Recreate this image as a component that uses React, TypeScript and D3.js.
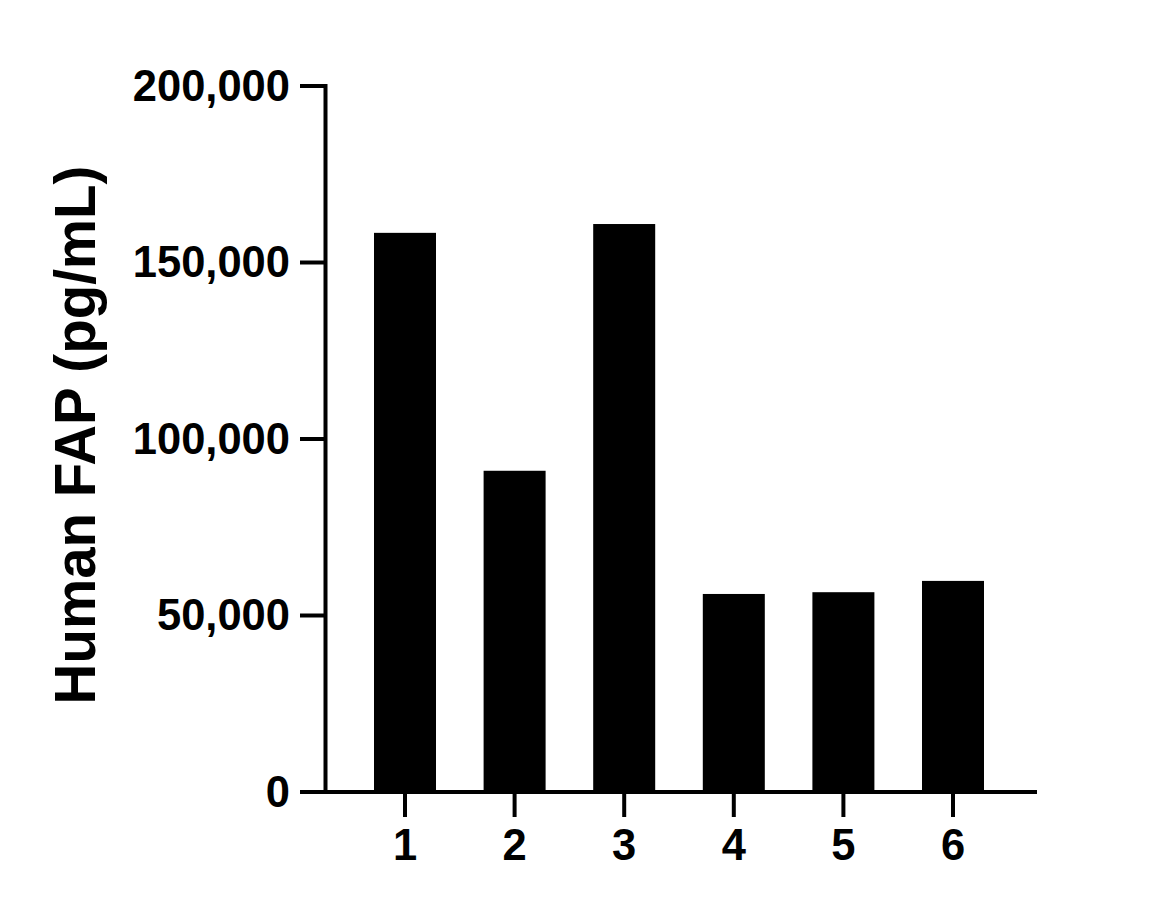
import React from "react";
import * as d3 from "d3";

const categories = ["1", "2", "3", "4", "5", "6"];
const values = [158400, 91000, 160900, 56100, 56600, 59800];
const yTicks = [0, 50000, 100000, 150000, 200000];
const yTitle = "Human FAP (pg/mL)";

const W = 1172;
const H = 908;
const axisX = 325.5;
const axisY = 792;
const xEnd = 1037;
const yTop = 86;
const barW = 62;
const font = "'Liberation Sans', Arial, Helvetica, sans-serif";

export default function App() {
  const y = d3.scaleLinear().domain([0, 200000]).range([axisY, yTop]);
  const x = d3.scalePoint<string>().domain(categories).range([405, 953]);
  const fmt = d3.format(",");
  return (
    <svg
      width={W}
      height={H}
      style={{ position: "absolute", left: 0, top: 0, background: "#fff" }}
    >
      {categories.map((c, i) => (
        <rect
          key={c}
          x={(x(c) as number) - barW / 2}
          y={y(values[i])}
          width={barW}
          height={axisY - y(values[i])}
          fill="#000"
        />
      ))}
      {/* y axis */}
      <line x1={axisX} x2={axisX} y1={yTop - 2} y2={axisY + 2} stroke="#000" strokeWidth={4} />
      {yTicks.map((t) => (
        <g key={t}>
          <line x1={300} x2={axisX} y1={y(t)} y2={y(t)} stroke="#000" strokeWidth={4} />
          <text
            x={290}
            y={y(t)}
            dy="0.34em"
            textAnchor="end"
            fontFamily={font}
            fontWeight="bold"
            fontSize={43.5}
            fill="#000"
          >
            {fmt(t)}
          </text>
        </g>
      ))}
      {/* x axis */}
      <line x1={300} x2={xEnd} y1={axisY} y2={axisY} stroke="#000" strokeWidth={4} />
      {categories.map((c) => (
        <g key={c}>
          <line x1={x(c)} x2={x(c)} y1={axisY} y2={817} stroke="#000" strokeWidth={4} />
          <text
            x={x(c)}
            y={860}
            textAnchor="middle"
            fontFamily={font}
            fontWeight="bold"
            fontSize={43.5}
            fill="#000"
          >
            {c}
          </text>
        </g>
      ))}
      <text
        transform={`translate(95, ${(167 + 703) / 2}) rotate(-90)`}
        textAnchor="middle"
        fontFamily={font}
        fontWeight="bold"
        fontSize={56.5}
        fill="#000"
      >
        {yTitle}
      </text>
    </svg>
  );
}
